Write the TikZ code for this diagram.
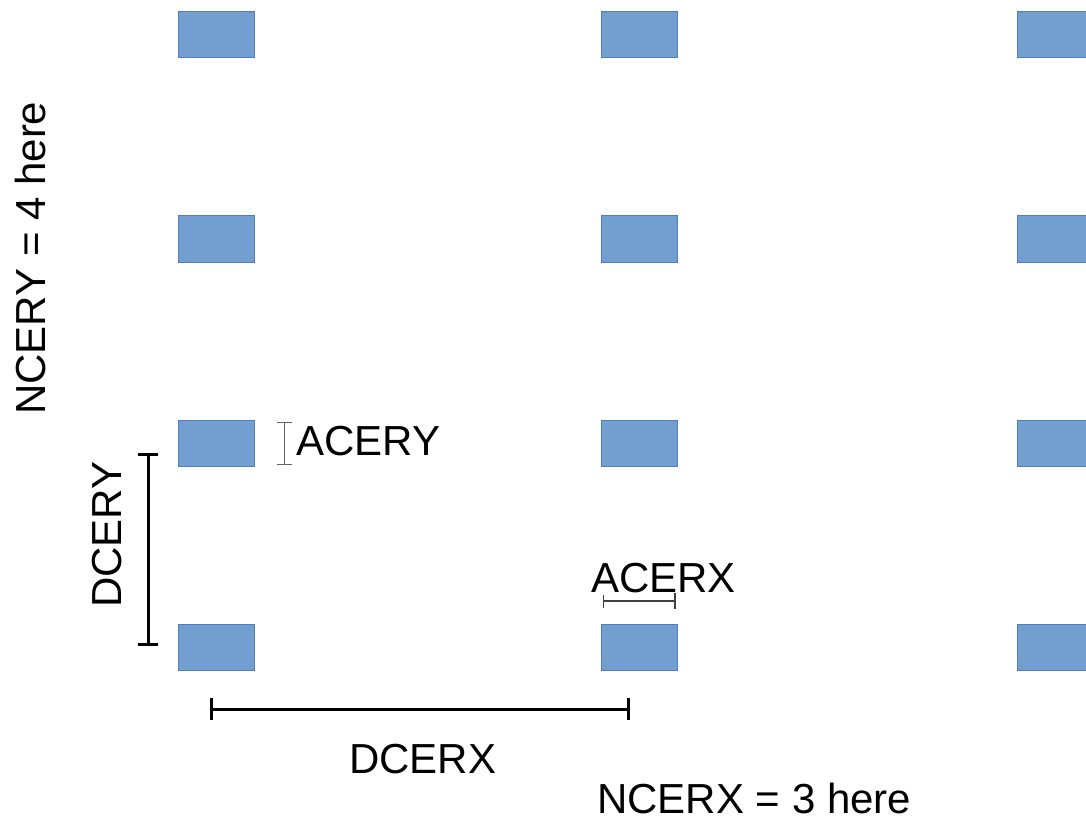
\documentclass[tikz,border=0pt]{standalone}
\usepackage{fontspec}
\setmainfont{Liberation Sans}
\usetikzlibrary{arrows.meta}
\tikzset{
  cell/.style={draw=cellborder, fill=cellfill, line width=1pt, minimum width=76pt, minimum height=46pt, inner sep=0pt},
  lbl/.style={inner sep=0pt, font=\fontsize{42}{50}\selectfont},
  bigdim/.style={line width=3pt, black, {Bar[width=#1]}-{Bar[width=#1]}},
}
\definecolor{cellfill}{HTML}{729FCF}
\definecolor{cellborder}{HTML}{4F7FBF}
\begin{document}
\begin{tikzpicture}[x=1pt,y=-1pt]
\useasboundingbox (0,0) rectangle (1086,818);
\clip (0,0) rectangle (1086,818);
% cells
\foreach \c/\x in {1/216,2/639,3/1055}{
  \foreach \r/\y in {1/35,2/239,3/443,4/647}{
    \node[cell] (c\c\r) at (\x,\y) {};
  }
}
% DCERY
\coordinate (dya) at (148,453);
\coordinate (dyb) at (148,646);
\draw[bigdim=20pt] (dya) -- (dyb);
\node[lbl, rotate=90, anchor=base west] (tdcery) at (121,608) {DCERY};
% DCERX
\coordinate (dxa) at (210,709);
\coordinate (dxb) at (630,709);
\draw[bigdim=22pt] (dxa) -- (dxb);
\node[lbl, anchor=base west] (tdcerx) at (349,773) {DCERX};
% ACERY
\coordinate (aya) at (284,422);
\coordinate (ayb) at (284,465);
\draw[line width=1pt, black!60, {Bar[width=15pt]}-{Bar[width=15pt]}] (aya) -- (ayb);
\node[lbl, anchor=base west] (tacery) at (296,455) {ACERY};
% ACERX
\coordinate (axa) at (603,601);
\coordinate (axb) at (676,601);
\draw[line width=1.3pt, black!75, {Bar[width=13pt]}-{Bar[width=16pt,line width=2.5pt]}] (axa) -- (axb);
\node[lbl, anchor=base west] (tacerx) at (591,592) {ACERX};
% counts
\node[lbl, anchor=base west] (tncerx) at (597,813) {NCERX = 3 here};
\node[lbl, rotate=90, anchor=base west] (tncery) at (45,415) {NCERY = 4 here};
\end{tikzpicture}
\end{document}
